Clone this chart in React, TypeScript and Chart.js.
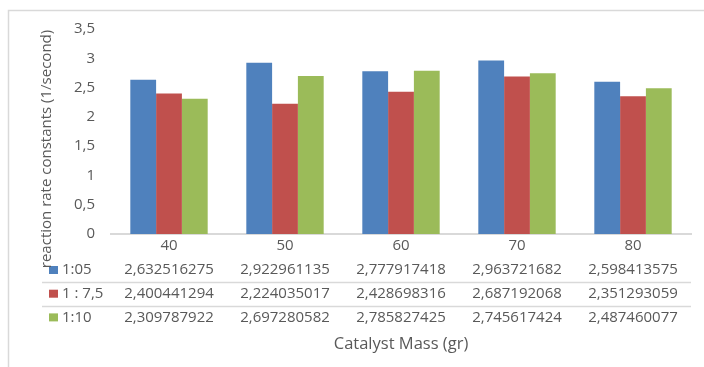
import React, { useEffect, useRef } from "react";
import { Chart, registerables } from "chart.js";

Chart.register(...registerables);

// Catalyst mass (gr) on the x axis
const categories = ["40", "50", "60", "70", "80"];

// Reaction rate constants (1/second) for each ratio
const seriesNames = ["1:05", "1 : 7,5", "1:10"];
const ratio105 = [2.632516275, 2.922961135, 2.777917418, 2.963721682, 2.598413575];
const ratio175 = [2.400441294, 2.224035017, 2.428698316, 2.687192068, 2.351293059];
const ratio110 = [2.309787922, 2.697280582, 2.785827425, 2.745617424, 2.487460077];

const yTicks = { min: 0, max: 3.5, step: 0.5 };

const colors = ["#4F81BD", "#C0504D", "#9BBB59"];
const TEXT = "#595959";
const LINE = "#d9d9d9";
const FONT = "'Open Sans', 'Liberation Sans', sans-serif";

const commaNum = (v: number | string) => String(v).replace(".", ",");

const dataTablePlugin = {
  id: "dataTable",
  beforeDraw(chart: any) {
    const ctx = chart.ctx;
    ctx.save();
    ctx.fillStyle = "#ffffff";
    ctx.fillRect(0, 0, chart.width, chart.height);
    ctx.strokeStyle = LINE;
    ctx.lineWidth = 1.5;
    ctx.strokeRect(8.5, 10.5, chart.width + 20, chart.height + 20);
    ctx.restore();
  },
  afterDraw(chart: any) {
    const ctx = chart.ctx;
    const area = chart.chartArea;
    const xs = chart.scales.x;
    const rowTop = area.bottom + 36;
    const rowH = 23.7;
    const tableLeft = 42;
    ctx.save();
    ctx.font = `15px ${FONT}`;
    ctx.textBaseline = "middle";
    chart.data.datasets.forEach((ds: any, i: number) => {
      const cy = rowTop + i * rowH;
      // legend key
      ctx.fillStyle = ds.backgroundColor;
      ctx.fillRect(49, cy - 4, 9, 8);
      ctx.fillStyle = TEXT;
      ctx.textAlign = "left";
      ctx.fillText(seriesNames[i], 62, cy);
      ctx.textAlign = "center";
      ds.data.forEach((v: number, j: number) => {
        ctx.fillText(commaNum(v), xs.getPixelForValue(j), cy);
      });
      if (i < chart.data.datasets.length - 1) {
        const ly = Math.round(cy + rowH / 2) + 0.5;
        ctx.strokeStyle = LINE;
        ctx.lineWidth = 1.5;
        ctx.beginPath();
        ctx.moveTo(tableLeft, ly);
        ctx.lineTo(area.right, ly);
        ctx.stroke();
      }
    });
    // x axis title
    ctx.textAlign = "center";
    ctx.fillStyle = TEXT;
    ctx.font = `16.5px ${FONT}`;
    ctx.fillText("Catalyst Mass (gr)", (area.left + area.right) / 2, rowTop + 2 * rowH + 27);
    // y axis title
    ctx.font = `15px ${FONT}`;
    ctx.translate(47, 149);
    ctx.rotate(-Math.PI / 2);
    ctx.fillText("reaction rate constants (1/second)", 0, 0);
    ctx.restore();
  },
};

export default function App() {
  const ref = useRef<HTMLCanvasElement>(null);

  useEffect(() => {
    if (!ref.current) return;
    const chart = new Chart(ref.current, {
      type: "bar",
      data: {
        labels: categories,
        datasets: [ratio105, ratio175, ratio110].map((d, i) => ({
          label: seriesNames[i],
          data: d,
          backgroundColor: colors[i],
          borderWidth: 0,
          categoryPercentage: 0.667,
          barPercentage: 1,
        })),
      },
      options: {
        responsive: false,
        animation: false,
        devicePixelRatio: 1,
        layout: { padding: { top: 29, right: 13, bottom: 0, left: 0 } },
        plugins: {
          legend: { display: false },
          tooltip: { enabled: false },
          title: { display: false },
        },
        scales: {
          x: {
            grid: { display: false, drawTicks: false },
            border: { display: true, color: LINE, width: 2 },
            ticks: { color: TEXT, font: { family: FONT, size: 15 }, padding: 3 },
            afterFit: (s: any) => {
              s.height = 133;
            },
          },
          y: {
            min: yTicks.min,
            max: yTicks.max,
            grid: { display: false, drawTicks: false },
            border: { display: false },
            ticks: {
              stepSize: yTicks.step,
              color: TEXT,
              font: { family: FONT, size: 15 },
              padding: 16,
              callback: (v: any) => commaNum(v),
            },
            afterFit: (s: any) => {
              s.width = 111;
            },
          },
        },
      },
      plugins: [dataTablePlugin],
    });
    return () => chart.destroy();
  }, []);

  return (
    <div style={{ position: "fixed", left: 0, top: 0, width: 704, height: 367, background: "#fff" }}>
      <canvas ref={ref} width={704} height={367} style={{ display: "block" }} />
    </div>
  );
}
